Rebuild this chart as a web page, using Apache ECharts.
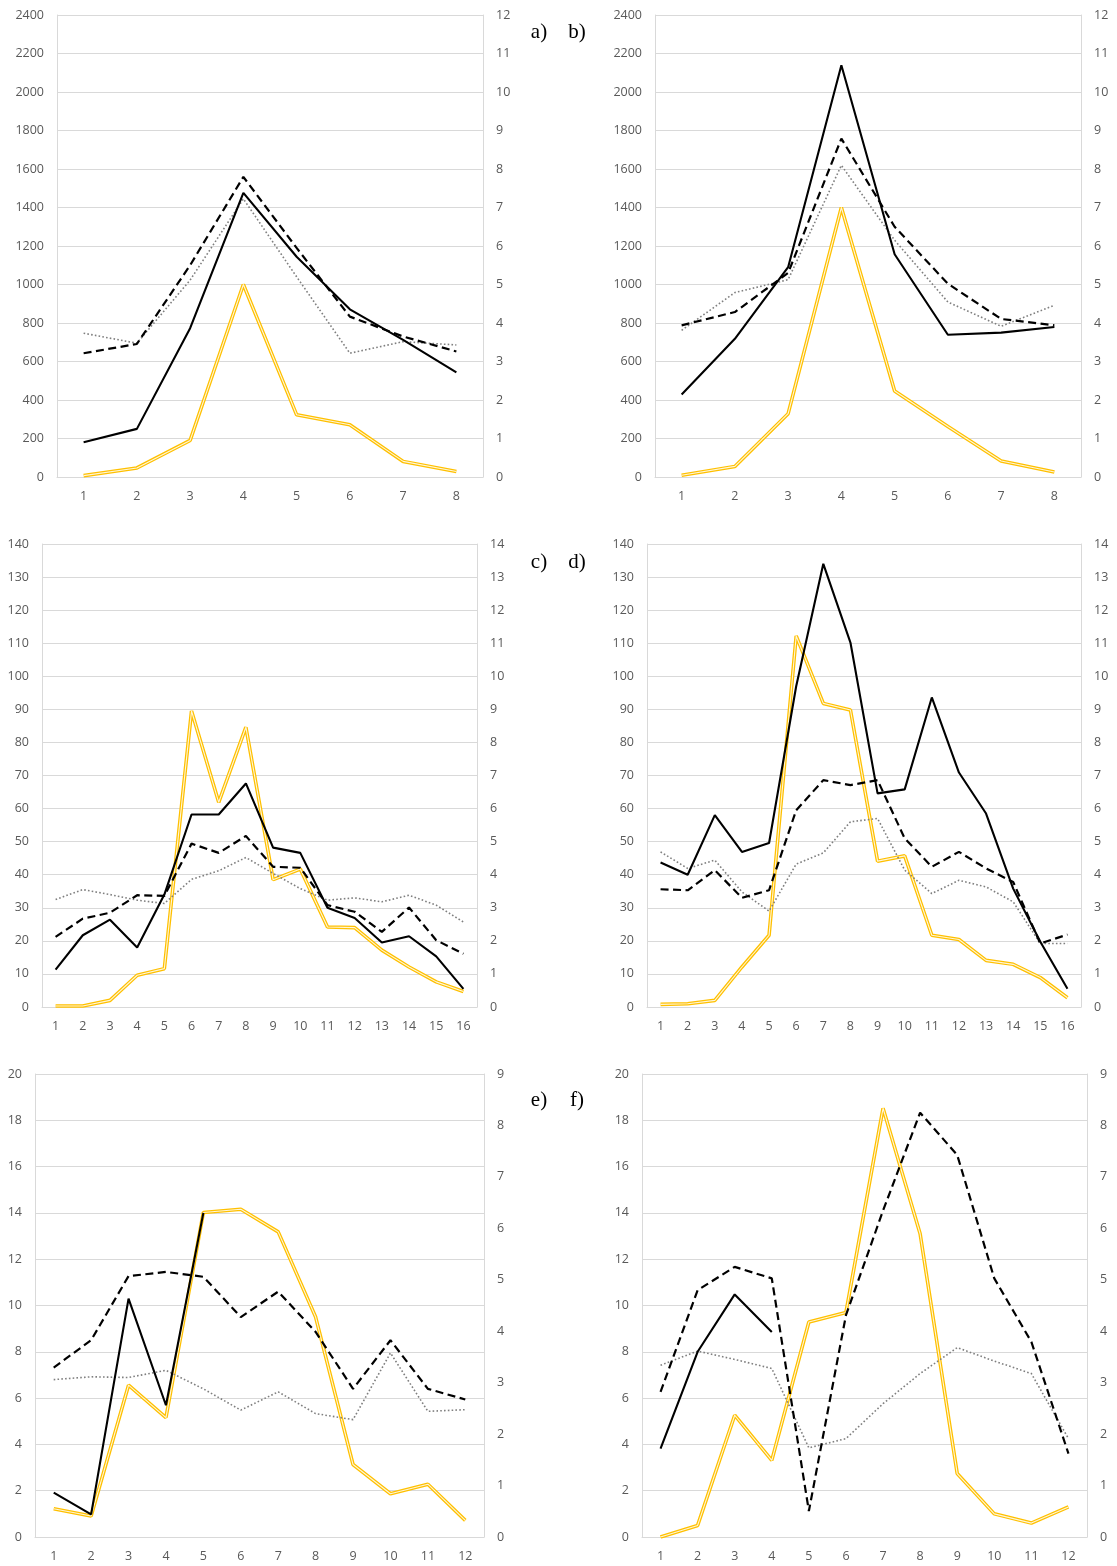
<!DOCTYPE html>
<html>
<head>
<meta charset="utf-8">
<script src="https://cdn.jsdelivr.net/npm/echarts@6/dist/echarts.min.js"></script>
<style>
html,body{margin:0;padding:0;background:#fff;}
#chart{width:1117px;height:1566px;}
</style>
</head>
<body>
<div id="chart"></div>
<script>
// ---- Data ----
const panelLabels = ['a)', 'b)', 'c)', 'd)', 'e)', 'f)'];
const catsAB = ['1','2','3','4','5','6','7','8'];
const catsCD = ['1','2','3','4','5','6','7','8','9','10','11','12','13','14','15','16'];
const catsEF = ['1','2','3','4','5','6','7','8','9','10','11','12'];

// panel a
const aSolid  = [180, 250, 773, 1476, 1144, 871, 712, 543];
const aDashed = [643, 691, 1100, 1559, 1190, 833, 730, 652];
const aDotted = [747, 695, 1023, 1445, 1040, 643, 703, 686];
const aYellow = [7, 47, 190, 1000, 323, 271, 81, 29];
// panel b
const bSolid  = [429, 718, 1090, 2139, 1157, 739, 750, 779];
const bDashed = [788, 857, 1060, 1758, 1300, 1004, 821, 788];
const bDotted = [762, 958, 1025, 1619, 1230, 909, 783, 892];
const bYellow = [9, 55, 329, 1400, 447, 262, 83, 26];
// panel c
const cSolid  = [11.3, 21.7, 26.4, 18.0, 34, 58.2, 58.2, 67.6, 48.2, 46.6, 30, 26.9, 19.5, 21.4, 15.3, 5.5];
const cDashed = [21.2, 26.7, 28.5, 33.8, 33.6, 49.4, 46.6, 51.7, 42.4, 42.1, 30.8, 28.8, 22.7, 30.1, 20.2, 16.1];
const cDotted = [32.5, 35.5, 34, 32.3, 31.3, 38.6, 41.2, 45.2, 40.4, 35.8, 32.3, 33, 31.8, 33.8, 30.8, 25.7];
const cYellow = [0.3, 0.3, 2, 9.6, 11.6, 89.5, 61.9, 84.6, 38.5, 41.7, 24.2, 24, 17.2, 12.1, 7.6, 4.7];
// panel d
const dSolid  = [43.7, 40, 58, 46.9, 49.6, 97, 134, 110.2, 64.6, 65.8, 93.6, 70.9, 58.5, 35.8, 19.7, 5.5];
const dDashed = [35.6, 35.3, 41.4, 33, 35.3, 59.5, 68.6, 67.1, 68.6, 51, 42.4, 46.9, 41.9, 37.8, 19.2, 21.9];
const dDotted = [46.9, 41.9, 44.4, 34.8, 29, 43.2, 46.6, 56, 57, 41.4, 34.3, 38.3, 36.3, 31.8, 19.2, 19.2];
const dYellow = [0.8, 1, 2, 12.1, 21.7, 112.2, 91.8, 89.8, 44.1, 45.7, 21.7, 20.4, 14.1, 12.9, 8.9, 2.8];
// panel e
const eSolid  = [1.92, 0.98, 10.3, 5.69, 14.0, null, null, null, null, null, null, null];
const eDashed = [7.32, 8.5, 11.27, 11.45, 11.24, 9.5, 10.6, 8.86, 6.4, 8.5, 6.4, 5.94];
const eDotted = [6.8, 6.92, 6.89, 7.2, 6.4, 5.48, 6.27, 5.33, 5.07, 7.95, 5.43, 5.5];
const eYellow = [1.22, 0.91, 6.56, 5.16, 14.02, 14.16, 13.18, 9.5, 3.13, 1.87, 2.28, 0.72];
// panel f
const fSolid  = [3.82, 8.0, 10.48, 8.86, null, null, null, null, null, null, null, null];
const fDashed = [6.27, 10.66, 11.67, 11.17, 1.12, 9.58, 14.1, 18.33, 16.5, 11.17, 8.43, 3.6];
const fDotted = [7.42, 8.03, 7.67, 7.28, 3.85, 4.25, 5.76, 7.06, 8.18, 7.6, 7.06, 4.25];
const fYellow = [0, 0.5, 5.26, 3.31, 9.29, 9.7, 18.52, 13.1, 2.74, 1.0, 0.6, 1.3];

// axis ranges
const leftMax  = [2400, 2400, 140, 140, 20, 20];
const leftInt  = [200, 200, 10, 10, 2, 2];
const rightMax = [12, 12, 14, 14, 9, 9];
const rightInt = [1, 1, 1, 1, 1, 1];

// ---- Build chart ----
const panels = [
  {cats: catsAB, solid: aSolid, dashed: aDashed, dotted: aDotted, yellow: aYellow},
  {cats: catsAB, solid: bSolid, dashed: bDashed, dotted: bDotted, yellow: bYellow},
  {cats: catsCD, solid: cSolid, dashed: cDashed, dotted: cDotted, yellow: cYellow},
  {cats: catsCD, solid: dSolid, dashed: dDashed, dotted: dDotted, yellow: dYellow},
  {cats: catsEF, solid: eSolid, dashed: eDashed, dotted: eDotted, yellow: eYellow},
  {cats: catsEF, solid: fSolid, dashed: fDashed, dotted: fDotted, yellow: fYellow}
];

const gridBoxes = [
  {left: 57,  top: 15,   width: 426, height: 462},
  {left: 655, top: 15,   width: 426, height: 462},
  {left: 42,  top: 544,  width: 435, height: 463},
  {left: 647, top: 544,  width: 434, height: 463},
  {left: 35,  top: 1074, width: 449, height: 463},
  {left: 642, top: 1074, width: 445, height: 463}
];

const FONT = '"Open Sans", "Noto Sans", sans-serif';
const labelStyle = {color: '#595959', fontSize: 12.5, fontFamily: FONT};
const gridColor = '#d9d9d9';
const plainNum = v => String(v);

const grids = [], xAxes = [], yAxes = [], series = [];
panels.forEach((p, i) => {
  grids.push(Object.assign({containLabel: false}, gridBoxes[i]));
  xAxes.push({
    type: 'category', gridIndex: i, data: p.cats, boundaryGap: true,
    axisLine: {show: true, lineStyle: {color: gridColor, width: 1}},
    axisTick: {show: false},
    axisLabel: Object.assign({margin: 13, interval: 0}, labelStyle),
    splitLine: {show: false}
  });
  yAxes.push({
    type: 'value', gridIndex: i, position: 'left', min: 0, max: leftMax[i], interval: leftInt[i],
    axisLine: {show: true, lineStyle: {color: gridColor, width: 1}},
    axisTick: {show: false},
    axisLabel: Object.assign({margin: 13, formatter: plainNum}, labelStyle),
    splitLine: {show: true, lineStyle: {color: gridColor, width: 1}}
  });
  yAxes.push({
    type: 'value', gridIndex: i, position: 'right', min: 0, max: rightMax[i], interval: rightInt[i],
    axisLine: {show: true, lineStyle: {color: gridColor, width: 1}},
    axisTick: {show: false},
    axisLabel: Object.assign({margin: 13, formatter: plainNum}, labelStyle),
    splitLine: {show: false}
  });
  const yIdx = i * 2;
  const base = {type: 'line', xAxisIndex: i, yAxisIndex: yIdx, symbol: 'none', silent: true, animation: false, connectNulls: false};
  series.push(Object.assign({}, base, {name: 'yellow-outer', data: p.yellow, lineStyle: {color: '#FFC000', width: 3.6}, z: 2}));
  series.push(Object.assign({}, base, {name: 'yellow-inner', data: p.yellow, lineStyle: {color: '#FFF6DA', width: 1.1}, z: 3}));
  series.push(Object.assign({}, base, {name: 'dotted', data: p.dotted, lineStyle: {color: '#7F7F7F', width: 1.6, type: [1.6, 2.2]}, z: 4}));
  series.push(Object.assign({}, base, {name: 'dashed', data: p.dashed, lineStyle: {color: '#000000', width: 2.2, type: [8, 4.5]}, z: 5}));
  series.push(Object.assign({}, base, {name: 'solid', data: p.solid, lineStyle: {color: '#000000', width: 2.1}, z: 6}));
});

const labelPos = [[539, 32], [577, 32], [539, 562], [577, 562], [539, 1100], [577, 1100]];
const graphics = panelLabels.map((t, i) => ({
  type: 'text', x: labelPos[i][0], y: labelPos[i][1],
  style: {text: t, fill: '#000', font: '21px "Liberation Serif", "Times New Roman", serif', textAlign: 'center', textVerticalAlign: 'middle'}
}));

const chart = echarts.init(document.getElementById('chart'), null, {renderer: 'canvas'});
chart.setOption({
  backgroundColor: '#ffffff',
  animation: false,
  grid: grids,
  xAxis: xAxes,
  yAxis: yAxes,
  series: series,
  graphic: graphics
});
</script>
</body>
</html>
